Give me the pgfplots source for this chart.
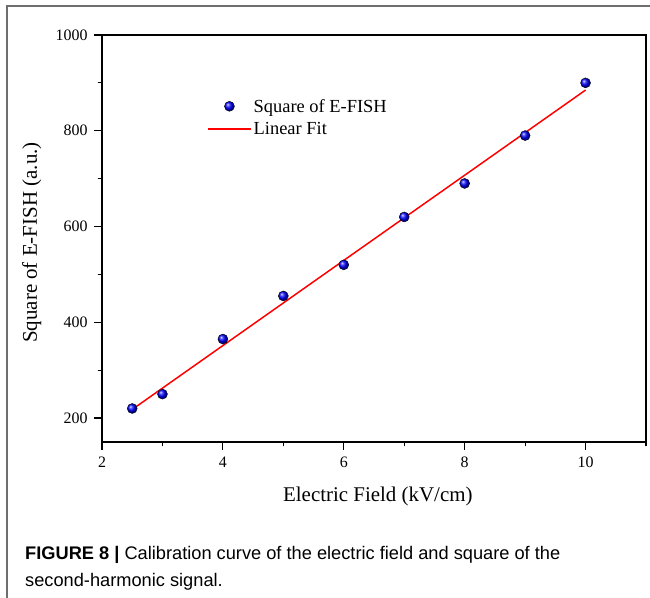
\documentclass[border=0pt]{standalone}
\usepackage{pgfplots}
\pgfplotsset{compat=1.18}
\usepackage{fontspec}
\setmainfont{Liberation Serif}
\newfontfamily\capfont{Liberation Sans}
\definecolor{framegray}{RGB}{110,110,110}
\begin{document}
\begin{tikzpicture}[x=1bp,y=1bp]
\path[use as bounding box] (0,0) rectangle (650,598);
\draw[line width=1.5bp, framegray] (7,0) -- (7,592) -- (650,592);
\begin{axis}[
  at={(102bp,156bp)}, anchor=south west,
  scale only axis, width=544bp, height=407bp,
  xmin=2, xmax=11, ymin=150, ymax=1000,
  xtick={2,4,6,8,10}, ytick={200,400,600,800,1000},
  minor xtick={3,5,7,9,11}, minor ytick={300,500,700,900},
  tick align=outside, xtick pos=bottom, ytick pos=left,
  major tick length=8bp, minor tick length=4.5bp,
  every tick/.style={black, line width=1.2bp},
  axis line style={line width=1.2bp},
  /pgf/number format/assume math mode=true,
  /pgf/number format/1000 sep={},
  tick label style={font=\fontsize{16}{18}\selectfont},
  yticklabel style={xshift=-3bp},
  xticklabel style={yshift=-3bp},
  label style={font=\fontsize{21}{24}\selectfont},
  xlabel={Electric Field (kV/cm)},
  ylabel={Square of E-FISH (a.u.)},
  x label style={at={(axis description cs:0.507,-0.133)}, anchor=center},
  y label style={at={(axis description cs:-0.129,0.49)}, anchor=center},
  legend style={draw=none, fill=none, at={(axis description cs:0.193,0.848)}, anchor=north west,
    inner sep=0pt, font=\fontsize{18.5}{20}\selectfont, row sep=4.5bp},
  legend cell align=left,
  legend image code/.code={\draw[mark repeat=2,mark phase=2,#1] plot coordinates {(0bp,0bp) (21.5bp,0bp) (43bp,0bp)};},
]
\addplot[only marks, mark=ball, mark size=5bp, mark options={ball color=blue}]
coordinates {(2.5,220) (3,250) (4,365) (5,455) (6,520) (7,620) (8,690) (9,790) (10,900)};
\addlegendentry{Square of E-FISH}
\addplot[red, line width=1.5bp] coordinates {(2.5,218) (10,885)};
\addlegendentry{Linear Fit}
\end{axis}
\node[anchor=base west, font=\capfont\fontsize{18.3}{22}\selectfont, inner sep=0pt] at (25,38)
  {\textbf{FIGURE 8 |} Calibration curve of the electric field and square of the};
\node[anchor=base west, font=\capfont\fontsize{18.3}{22}\selectfont, inner sep=0pt] at (25,11)
  {second-harmonic signal.};
\end{tikzpicture}
\end{document}
